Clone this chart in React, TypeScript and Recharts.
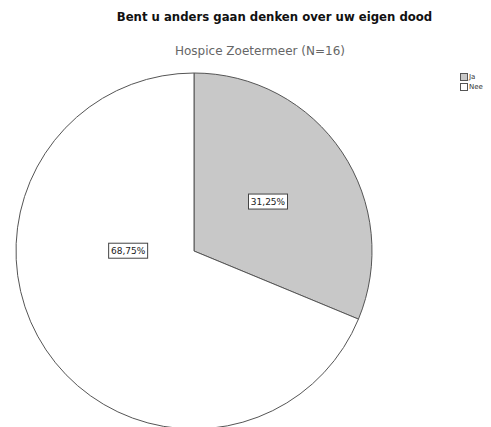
import React from "react";
import { PieChart, Pie, Cell, Legend } from "recharts";

const categories = ["Ja", "Nee"];
const percentages = [31.25, 68.75];
const fills = ["#c8c8c8", "#ffffff"];
const title = "Bent u anders gaan denken over uw eigen dood";
const subtitle = "Hospice Zoetermeer (N=16)";

// label placement style (fraction of radius, angle tweak in degrees)
const labelRadiusFrac = [0.5, 0.37];
const labelAngleShift = [0, -34];

const data = categories.map((name, i) => ({ name, value: percentages[i] }));

const RAD = Math.PI / 180;

const renderLabel = (props: any) => {
  const { cx, cy, midAngle, outerRadius, value, index } = props;
  const r = outerRadius * labelRadiusFrac[index];
  const a = midAngle + labelAngleShift[index];
  const x = cx + r * Math.cos(-a * RAD);
  const y = cy + r * Math.sin(-a * RAD);
  const txt = value.toFixed(2).replace(".", ",") + "%";
  const w = 39;
  const h = 15;
  return (
    <g>
      <rect x={x - w / 2} y={y - h / 2} width={w} height={h} fill="#ffffff" stroke="#444" strokeWidth={1} />
      <text x={x} y={y + 3.5} textAnchor="middle" fontSize={9} fontFamily="Tahoma, 'DejaVu Sans', sans-serif" fill="#222">
        {txt}
      </text>
    </g>
  );
};

const renderLegend = () => (
  <div style={{ fontFamily: "'DejaVu Sans', sans-serif", fontSize: 7, color: "#333", lineHeight: "10px" }}>
    {categories.map((c, i) => (
      <div key={c} style={{ display: "flex", alignItems: "center", color: "#333" }}>
        <span style={{ display: "inline-block", width: 6, height: 6, border: "1px solid #555", background: fills[i], marginRight: 1 }} />
        <span style={{ color: "#333" }}>{c}</span>
      </div>
    ))}
  </div>
);

export default function App() {
  return (
    <div style={{ position: "absolute", left: 0, top: 0, width: 491, height: 427, background: "#fff", overflow: "hidden" }}>
      <div style={{ position: "absolute", left: 0, width: 549, top: 10, textAlign: "center", fontFamily: "'DejaVu Sans', sans-serif", fontWeight: "bold", fontSize: 11.7, color: "#111" }}>
        {title}
      </div>
      <div style={{ position: "absolute", left: 0, width: 520, top: 44, textAlign: "center", fontFamily: "'DejaVu Sans', sans-serif", fontSize: 12, color: "#666" }}>
        {subtitle}
      </div>
      <PieChart width={491} height={427} margin={{ top: 0, right: 0, bottom: 0, left: 0 }} style={{ position: "absolute", left: 0, top: 0 }}>
        <Pie
          data={data}
          dataKey="value"
          nameKey="name"
          cx={194}
          cy={251}
          outerRadius={178}
          startAngle={90}
          endAngle={-270}
          stroke="#555"
          strokeWidth={1}
          label={renderLabel}
          labelLine={false}
          isAnimationActive={false}
        >
          {data.map((d, i) => (
            <Cell key={d.name} fill={fills[i]} />
          ))}
        </Pie>
        <Legend content={renderLegend} layout="vertical" verticalAlign="top" align="right" wrapperStyle={{ position: "absolute", left: 460, top: 72, width: 30 }} />
      </PieChart>
    </div>
  );
}
